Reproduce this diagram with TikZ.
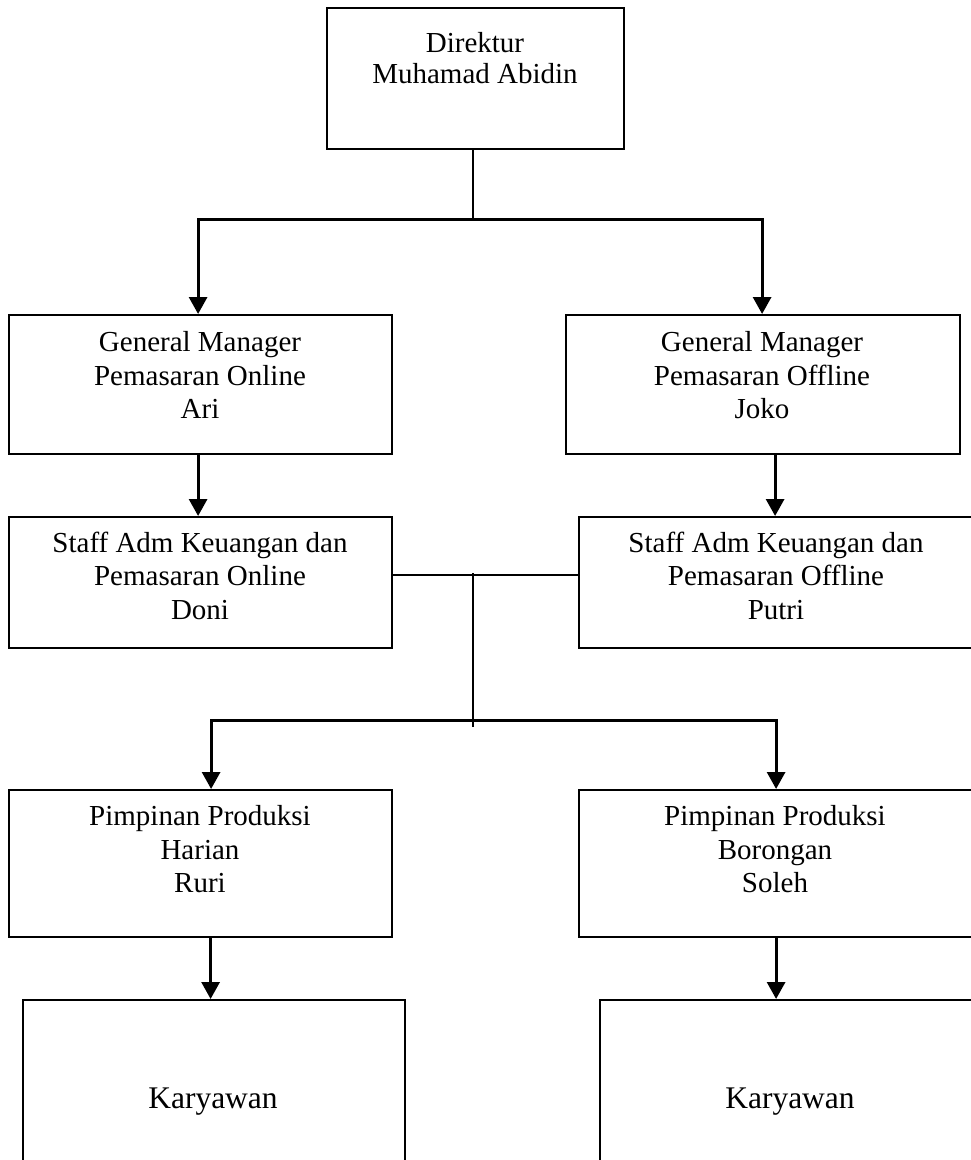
\documentclass[tikz,border=0pt]{standalone}
\usepackage{fontspec}
\setmainfont{Liberation Serif}
\usetikzlibrary{arrows.meta}
\begin{document}
\begin{tikzpicture}[x=1pt,y=-1pt,
  box/.style={draw, line width=2.2pt, inner sep=0pt, anchor=north west},
  txt/.style={anchor=north, inner sep=0pt, align=center, font=\fontsize{29}{33.5}\selectfont},
  kar/.style={anchor=base, inner sep=0pt, font=\fontsize{31.5}{36}\selectfont},
  arr/.style={line width=3pt, -{Triangle[width=18pt,length=17pt]}},
  thinl/.style={line width=1.8pt}]
\useasboundingbox (0,0) rectangle (971,1160);
\clip (0,0) rectangle (971,1160);
% boxes
\node[box, minimum width=297pt, minimum height=141pt] (dir) at (326,7) {};
\node[box, minimum width=383pt, minimum height=139pt] (gmL) at (8,314) {};
\node[box, minimum width=394pt, minimum height=139pt] (gmR) at (565,314) {};
\node[box, minimum width=383pt, minimum height=131pt] (stL) at (8,516) {};
\node[box, minimum width=396pt, minimum height=131pt] (stR) at (578,516) {};
\node[box, minimum width=383pt, minimum height=147pt] (ppL) at (8,789) {};
\node[box, minimum width=394pt, minimum height=147pt] (ppR) at (578,789) {};
\node[box, minimum width=382pt, minimum height=180pt] (kL) at (22,999) {};
\node[box, minimum width=386pt, minimum height=180pt] (kR) at (599,999) {};
% texts
\node[txt, font=\fontsize{29}{30.6}\selectfont] (tdir) at (475,30.7) {\rule{0pt}{22pt}Direktur\\Muhamad Abidin};
\node[txt] (tgmL) at (200,329.7) {\rule{0pt}{22pt}General Manager\\Pemasaran Online\\Ari};
\node[txt] (tgmR) at (762,329.7) {\rule{0pt}{22pt}General Manager\\Pemasaran Offline\\Joko};
\node[txt] (tstL) at (200,530) {\rule{0pt}{22pt}Staff Adm Keuangan dan\\Pemasaran Online\\Doni};
\node[txt] (tstR) at (776,530) {\rule{0pt}{22pt}Staff Adm Keuangan dan\\Pemasaran Offline\\Putri};
\node[txt] (tppL) at (200,803.7) {\rule{0pt}{22pt}Pimpinan Produksi\\Harian\\Ruri};
\node[txt] (tppR) at (775,803.7) {\rule{0pt}{22pt}Pimpinan Produksi\\Borongan\\Soleh};
\node[kar] (tkL) at (213,1108) {Karyawan};
\node[kar] (tkR) at (790,1108) {Karyawan};
% junctions
\coordinate (j1) at (473,219);
\coordinate (m1) at (473,575);
\coordinate (bj) at (473,720);
% connectors
\draw[thinl] (dir.south -| j1) -- (j1);
\draw[arr] (j1) -| ([xshift=-2.5pt]gmL.north);
\draw[arr] (j1) -| ([xshift=-1pt]gmR.north);
\draw[arr] ([xshift=-2.5pt]gmL.south) -- ([xshift=-2.5pt]stL.north);
\draw[arr] ([xshift=-2pt]gmR.south -| stR.north) -- ([xshift=-2pt]stR.north);
\draw[thinl] (stL.east |- m1) -- (stR.west |- m1);
\draw[thinl] ([yshift=2pt]m1) -- ([yshift=-7pt]bj);
\draw[arr] (bj) -| ([xshift=10.5pt]ppL.north);
\draw[arr] (bj) -| (ppR.north);
\draw[arr] ([xshift=10pt]ppL.south) -- ([xshift=10pt]ppL.south |- kL.north);
\draw[arr] (ppR.south) -- (ppR.south |- kR.north);
\end{tikzpicture}
\end{document}
